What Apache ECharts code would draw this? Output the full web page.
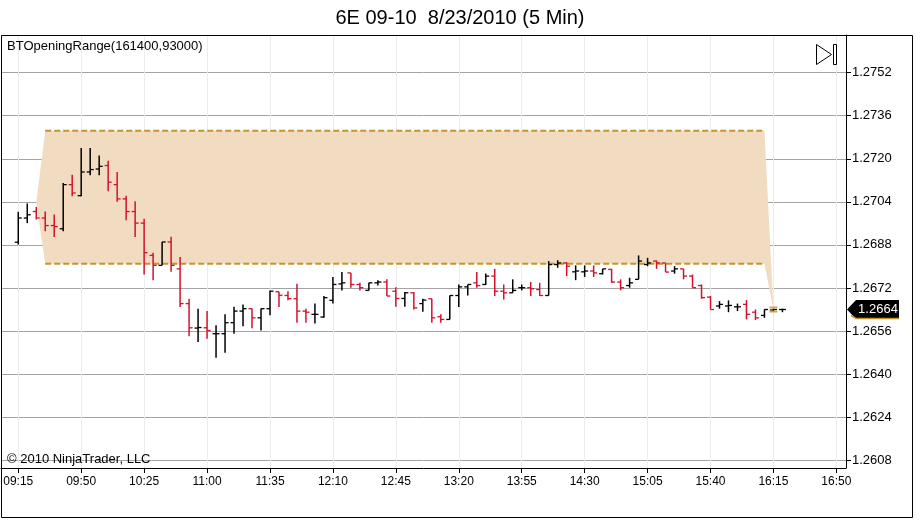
<!DOCTYPE html>
<html>
<head>
<meta charset="utf-8">
<script src="https://cdn.jsdelivr.net/npm/echarts@6/dist/echarts.min.js"></script>
<style>
  html, body { margin: 0; padding: 0; background: #fff; }
  #chart { width: 920px; height: 520px; }
</style>
</head>
<body>
<div id="chart"></div>
<script>
// 6E 09-10, 8/23/2010, 5 min bars from 09:15 (index 0) to 16:20 (index 85)
const opens = [
  1.26890, 1.26980, 1.27004, 1.26980, 1.26952, 1.26940, 1.27104, 1.27063, 1.27151, 1.27162,
  1.27175, 1.27104, 1.27051, 1.27004, 1.26961, 1.26841, 1.26804, 1.26891, 1.26791, 1.26662,
  1.26571, 1.26572, 1.26550, 1.26550, 1.26591, 1.26634, 1.26643, 1.26609, 1.26643, 1.26706,
  1.26692, 1.26680, 1.26634, 1.26622, 1.26612, 1.26674, 1.26735, 1.26776, 1.26733, 1.26711,
  1.26739, 1.26742, 1.26708, 1.26681, 1.26702, 1.26662, 1.26680, 1.26613, 1.26603, 1.26692,
  1.26724, 1.26739, 1.26733, 1.26764, 1.26708, 1.26702, 1.26721, 1.26721, 1.26714, 1.26692,
  1.26807, 1.26813, 1.26780, 1.26780, 1.26783, 1.26773, 1.26789, 1.26742, 1.26729, 1.26752,
  1.26807, 1.26820, 1.26813, 1.26783, 1.26791, 1.26764, 1.26729, 1.26686, 1.26653, 1.26653,
  1.26650, 1.26659, 1.26630, 1.26618, 1.26638, 1.26640
];
const highs = [
  1.27003, 1.27034, 1.27021, 1.27004, 1.26993, 1.27110, 1.27141, 1.27240, 1.27240, 1.27212,
  1.27193, 1.27151, 1.27063, 1.27042, 1.26977, 1.26851, 1.26891, 1.26910, 1.26835, 1.26680,
  1.26643, 1.26634, 1.26581, 1.26622, 1.26650, 1.26659, 1.26644, 1.26644, 1.26711, 1.26706,
  1.26708, 1.26736, 1.26643, 1.26662, 1.26690, 1.26761, 1.26779, 1.26776, 1.26739, 1.26739,
  1.26749, 1.26752, 1.26723, 1.26705, 1.26705, 1.26680, 1.26680, 1.26622, 1.26692, 1.26733,
  1.26733, 1.26779, 1.26774, 1.26791, 1.26733, 1.26752, 1.26733, 1.26742, 1.26739, 1.26820,
  1.26823, 1.26816, 1.26804, 1.26804, 1.26804, 1.26791, 1.26791, 1.26752, 1.26758, 1.26841,
  1.26832, 1.26822, 1.26813, 1.26801, 1.26791, 1.26770, 1.26733, 1.26690, 1.26671, 1.26674,
  1.26662, 1.26675, 1.26640, 1.26640, 1.26643, 1.26643
];
const lows = [
  1.26881, 1.26961, 1.26974, 1.26931, 1.26909, 1.26931, 1.27061, 1.27061, 1.27139, 1.27139,
  1.27079, 1.27040, 1.26972, 1.26909, 1.26770, 1.26749, 1.26804, 1.26780, 1.26649, 1.26541,
  1.26519, 1.26531, 1.26461, 1.26479, 1.26550, 1.26578, 1.26570, 1.26562, 1.26619, 1.26649,
  1.26674, 1.26591, 1.26591, 1.26588, 1.26609, 1.26662, 1.26711, 1.26721, 1.26711, 1.26711,
  1.26729, 1.26690, 1.26650, 1.26650, 1.26640, 1.26632, 1.26591, 1.26591, 1.26603, 1.26649,
  1.26692, 1.26721, 1.26731, 1.26690, 1.26677, 1.26702, 1.26711, 1.26690, 1.26690, 1.26692,
  1.26795, 1.26764, 1.26749, 1.26761, 1.26761, 1.26770, 1.26739, 1.26711, 1.26721, 1.26752,
  1.26801, 1.26791, 1.26779, 1.26773, 1.26752, 1.26721, 1.26680, 1.26640, 1.26643, 1.26630,
  1.26634, 1.26603, 1.26601, 1.26609, 1.26634, 1.26630
];
const closes = [
  1.26980, 1.26992, 1.26980, 1.26952, 1.26948, 1.27104, 1.27073, 1.27151, 1.27160, 1.27172,
  1.27113, 1.27051, 1.27004, 1.26961, 1.26851, 1.26804, 1.26891, 1.26804, 1.26662, 1.26572,
  1.26573, 1.26562, 1.26550, 1.26591, 1.26634, 1.26643, 1.26609, 1.26643, 1.26708, 1.26693,
  1.26680, 1.26634, 1.26630, 1.26622, 1.26684, 1.26733, 1.26739, 1.26733, 1.26721, 1.26739,
  1.26742, 1.26690, 1.26681, 1.26702, 1.26646, 1.26675, 1.26609, 1.26603, 1.26692, 1.26724,
  1.26733, 1.26729, 1.26764, 1.26708, 1.26702, 1.26711, 1.26721, 1.26717, 1.26692, 1.26807,
  1.26813, 1.26801, 1.26783, 1.26783, 1.26776, 1.26791, 1.26742, 1.26721, 1.26739, 1.26820,
  1.26813, 1.26813, 1.26779, 1.26791, 1.26764, 1.26721, 1.26684, 1.26640, 1.26659, 1.26655,
  1.26650, 1.26622, 1.26609, 1.26640, 1.26640, 1.26640
];

// BTOpeningRange plot: [bar index, price]
const orUpper = [[2, 1.27037], [3, 1.27304], [83, 1.27304], [84, 1.26640]];
const orLower = [[2, 1.27037], [3, 1.26810], [83, 1.26810], [84, 1.26640]];
const orLast = [[84, 1.26640]];

// axis ticks
const xTickIdx = [0, 7, 14, 21, 28, 35, 42, 49, 56, 63, 70, 77, 84, 91];
const xTickLabels = ['09:15', '09:50', '10:25', '11:00', '11:35', '12:10', '12:45',
                     '13:20', '13:55', '14:30', '15:05', '15:40', '16:15', '16:50'];
const yTicks = [1.2608, 1.2624, 1.2640, 1.2656, 1.2672, 1.2688, 1.2704, 1.2720, 1.2736, 1.2752];

const RED = '#d4112c', GOLD = '#c8922a', BAND = '#f1dcc2';
const FONT = 'Liberation Sans, Arial, sans-serif';

const ohlc = opens.map((o, i) => [i, o, highs[i], lows[i], closes[i]]);

const chart = echarts.init(document.getElementById('chart'), null, { renderer: 'canvas' });

function renderBar(params, api) {
  const x = api.value(0), o = api.value(1), h = api.value(2), l = api.value(3), c = api.value(4);
  const pH = api.coord([x, h]), pL = api.coord([x, l]);
  const pO = api.coord([x, o]), pC = api.coord([x, c]);
  const color = c >= o ? '#000' : RED;
  const w = 3.5;
  return {
    type: 'group',
    children: [
      { type: 'line', shape: { x1: pH[0], y1: pH[1], x2: pL[0], y2: pL[1] }, style: { stroke: color, lineWidth: 1.5 } },
      { type: 'line', shape: { x1: pO[0] - w, y1: pO[1], x2: pO[0], y2: pO[1] }, style: { stroke: color, lineWidth: 1.3 } },
      { type: 'line', shape: { x1: pC[0], y1: pC[1], x2: pC[0] + w, y2: pC[1] }, style: { stroke: color, lineWidth: 1.3 } },
    ],
  };
}

// band between upper and lower plot, drawn once as a polygon
function renderBand(params, api) {
  if (params.dataIndex !== 0) return null;
  const pts = orUpper.map((p) => api.coord(p)).concat(orLower.slice().reverse().map((p) => api.coord(p)));
  return { type: 'polygon', shape: { points: pts }, style: { fill: BAND } };
}

chart.setOption({
  animation: false,
  title: {
    text: '6E 09-10  8/23/2010 (5 Min)', left: 'center', top: 3,
    textStyle: { fontFamily: FONT, fontSize: 20, fontWeight: 'normal', color: '#000' },
  },
  grid: { left: 1, right: 74, top: 35, bottom: 52 },
  xAxis: {
    type: 'value', min: -1.92, max: 92.07,
    axisLine: { onZero: false, lineStyle: { color: '#000', width: 1 } },
    axisTick: { customValues: xTickIdx, length: 5, lineStyle: { color: '#000' } },
    axisLabel: {
      customValues: xTickIdx, margin: 8, color: '#000', fontFamily: FONT, fontSize: 12,
      formatter: (v) => xTickLabels[xTickIdx.indexOf(Math.round(v))] || '',
    },
    splitLine: { show: true, lineStyle: { color: '#ececec', width: 1 } },
  },
  yAxis: {
    type: 'value', position: 'right', min: 1.26051, max: 1.27660,
    axisLine: { show: true, onZero: false, lineStyle: { color: '#000', width: 1 } },
    axisTick: { show: true, customValues: yTicks, length: 5, lineStyle: { color: '#000' } },
    axisLabel: {
      customValues: yTicks, margin: 6, color: '#000', fontFamily: FONT, fontSize: 13,
      formatter: (v) => v.toFixed(4),
    },
    splitLine: { show: true, lineStyle: { color: '#a3a3a3', width: 1 } },
  },
  series: [
    { type: 'custom', data: orUpper, renderItem: renderBand, encode: { x: 0, y: 1 }, silent: true, z: 1 },
    { type: 'line', data: orUpper.slice(1, 3), symbol: 'none', silent: true, z: 2,
      lineStyle: { color: GOLD, width: 2, type: [6, 3] } },
    { type: 'line', data: orLower.slice(1, 3), symbol: 'none', silent: true, z: 2,
      lineStyle: { color: GOLD, width: 2, type: [6, 3] } },
    { type: 'custom', data: ohlc, renderItem: renderBar, encode: { x: 0, y: [1, 2, 3, 4] }, z: 3 },
    { type: 'scatter', data: orLast, symbol: 'path://M0,0H8V2H0Z M0,4H8V6H0Z', symbolSize: [8, 6],
      itemStyle: { color: GOLD }, silent: true, z: 4 },
  ],
});

// decorations: frame, legend text, copyright, ▷| button, last-price tag
const yLast = chart.convertToPixel({ yAxisIndex: 0 }, closes[closes.length - 1]);
const xAxisEnd = chart.convertToPixel({ xAxisIndex: 0 }, 92.07);
chart.setOption({
  graphic: [
    { type: 'rect', shape: { x: 1.5, y: 35.5, width: 911, height: 482 }, style: { fill: 'none', stroke: '#000', lineWidth: 1 }, z: 10 },
    { type: 'text', left: 7, top: 40, style: { text: 'BTOpeningRange(161400,93000)', font: '13px ' + FONT, fill: '#000' }, z: 10 },
    { type: 'text', left: 7, top: 453, style: { text: '\u00a9 2010 NinjaTrader, LLC', font: '13px ' + FONT, fill: '#000' }, z: 10 },
    { type: 'polygon', shape: { points: [[816.5, 44.5], [831.5, 54.5], [816.5, 64.5]] }, style: { fill: '#fff', stroke: '#000', lineWidth: 1 }, z: 10 },
    { type: 'rect', shape: { x: 833.5, y: 44.5, width: 3, height: 20 }, style: { fill: '#fff', stroke: '#000', lineWidth: 1 }, z: 10 },
    { type: 'polygon', shape: { points: [[xAxisEnd + 1, yLast], [xAxisEnd + 10, yLast - 9.5], [xAxisEnd + 53, yLast - 9.5],
        [xAxisEnd + 53, yLast + 9.5], [xAxisEnd + 10, yLast + 9.5]] }, style: { fill: '#000' }, z: 10 },
    { type: 'polyline', shape: { points: [[xAxisEnd + 5, yLast + 6], [xAxisEnd + 10, yLast + 9], [xAxisEnd + 53, yLast + 9]] },
      style: { stroke: GOLD, lineWidth: 1.5, fill: 'none' }, z: 11 },
    { type: 'text', x: xAxisEnd + 32, y: yLast, style: { text: closes[closes.length - 1].toFixed(4), font: '13px ' + FONT,
        fill: '#fff', align: 'center', verticalAlign: 'middle' }, z: 12 },
  ],
});
</script>
</body>
</html>
